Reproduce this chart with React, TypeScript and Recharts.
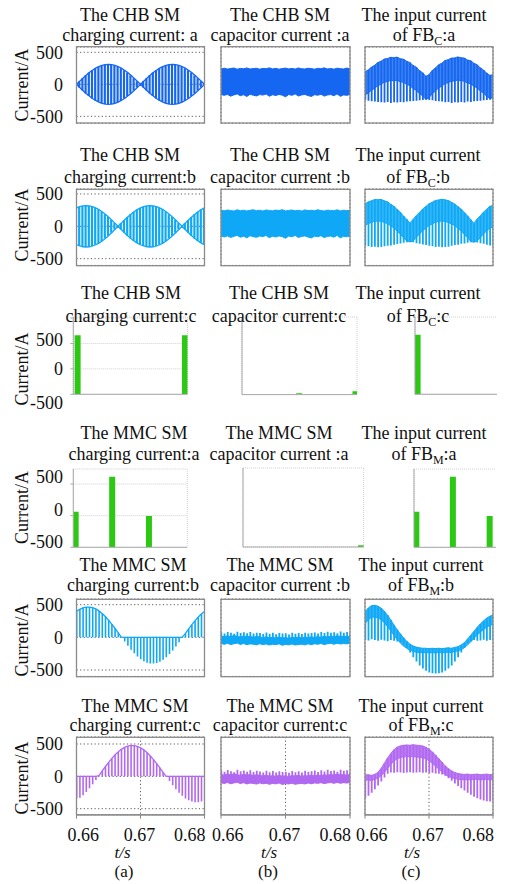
import React from 'react';
import { ComposedChart, Bar, Line, Area, XAxis, YAxis, CartesianGrid } from 'recharts';

// ---------- shared sample instants (s) ----------
const TIME = [
  0.66, 0.6605, 0.661, 0.6615, 0.662, 0.6625, 0.663, 0.6635, 0.664, 0.6645,
  0.665, 0.6655, 0.666, 0.6665, 0.667, 0.6675, 0.668, 0.6685, 0.669, 0.6695,
  0.67, 0.6705, 0.671, 0.6715, 0.672, 0.6725, 0.673, 0.6735, 0.674, 0.6745,
  0.675, 0.6755, 0.676, 0.6765, 0.677, 0.6775, 0.678, 0.6785, 0.679, 0.6795, 0.68,
];
const X_TICKS = [0.66, 0.67, 0.68];
const Y_TICKS = [-500, 0, 500];

// ---------- row 1 : CHB phase a ----------
const CHB_A_CHARGE_ENV = [0, 49, 96, 142, 183, 221, 252, 278, 297, 308, 312, 308, 297, 278, 252, 221, 183, 142, 96, 49, 0, 49, 96, 142, 183, 221, 252, 278, 297, 308, 312, 308, 297, 278, 252, 221, 183, 142, 96, 49, 0];
const CHB_A_CAP_HI = [240, 252, 238, 247, 255, 236, 249, 243, 256, 239, 246, 251, 237, 248, 244, 257, 240, 250, 236, 247, 253, 241, 249, 238, 255, 244, 239, 251, 246, 236, 250, 243, 257, 240, 248, 237, 252, 245, 239, 254, 244];
const CHB_A_CAP_LO = [-160, -172, -158, -185, -165, -150, -178, -162, -190, -155, -170, -182, -160, -168, -152, -186, -163, -175, -158, -170, -195, -160, -172, -150, -183, -166, -158, -176, -190, -162, -171, -155, -184, -167, -160, -178, -150, -188, -165, -172, -160];
const CHB_A_IN_TOP = [195, 225, 268, 296, 340, 360, 395, 402, 422, 415, 425, 400, 392, 360, 340, 295, 268, 215, 180, 125, 150, 215, 255, 305, 330, 372, 385, 410, 412, 428, 415, 410, 380, 370, 330, 305, 258, 225, 175, 140, 150];
const CHB_A_IN_BAND_LO = [-165, -135, -92, -64, -20, 0, 35, 42, 62, 55, 65, 40, 32, 0, -20, -65, -92, -145, -180, -235, -210, -145, -105, -55, -30, 12, 25, 50, 52, 68, 55, 50, 20, 10, -30, -55, -102, -135, -185, -220, -210];
const CHB_A_IN_LOW = [-250, -255, -265, -270, -275, -280, -285, -275, -290, -280, -285, -275, -280, -270, -265, -260, -255, -250, -245, -240, -245, -250, -260, -265, -270, -280, -275, -290, -280, -285, -275, -285, -270, -275, -265, -260, -255, -250, -245, -240, -245];

// ---------- row 2 : CHB phase b ----------
const CHB_B_CHARGE_ENV = [285, 304, 316, 320, 316, 304, 285, 259, 226, 188, 145, 99, 50, 0, 50, 99, 145, 188, 226, 259, 285, 304, 316, 320, 316, 304, 285, 259, 226, 188, 145, 99, 50, 0, 50, 99, 145, 188, 226, 259, 285];
const CHB_B_CAP_HI = [248, 239, 252, 244, 236, 255, 241, 250, 238, 247, 256, 240, 249, 237, 253, 245, 239, 251, 243, 258, 238, 246, 252, 240, 249, 236, 254, 243, 248, 239, 256, 244, 237, 250, 246, 241, 255, 238, 249, 243, 247];
const CHB_B_CAP_LO = [-150, -165, -148, -172, -155, -140, -168, -152, -178, -145, -160, -170, -150, -158, -142, -175, -153, -165, -148, -160, -185, -150, -162, -140, -173, -156, -148, -166, -180, -152, -161, -145, -174, -157, -150, -168, -140, -178, -155, -162, -150];
const CHB_B_IN_TOP = [345, 378, 395, 413, 412, 415, 395, 378, 342, 310, 262, 218, 160, 110, 52, 105, 165, 212, 268, 305, 348, 372, 399, 408, 418, 409, 398, 372, 347, 305, 268, 214, 165, 104, 48, 110, 160, 218, 262, 310, 320];
const CHB_B_IN_BAND_LO = [10, 43, 60, 78, 77, 80, 60, 43, 7, -25, -73, -117, -175, -225, -240, -230, -170, -123, -67, -30, 13, 37, 64, 73, 83, 74, 63, 37, 12, -30, -67, -121, -170, -231, -245, -225, -175, -117, -73, -25, -15];
const CHB_B_IN_LOW = [-300, -310, -320, -315, -325, -320, -310, -300, -295, -285, -275, -265, -255, -245, -240, -245, -260, -270, -280, -290, -300, -310, -320, -315, -325, -320, -315, -300, -290, -285, -270, -265, -255, -245, -245, -250, -260, -270, -285, -295, -305];

// ---------- rows 3 & 4 : bar renderings ----------
const BAR_BASE = -500;
const R3_X_TICKS = [0.66, 0.67, 0.68];
const R4_X_TICKS = [0.66, 0.66667, 0.67333, 0.68];
const CHB_C_CHARGE_T = [0.6607, 0.6795];
const CHB_C_CHARGE_TOP = [660, 662];
const CHB_C_CAP_T = [0.66997, 0.67976];
const CHB_C_CAP_TOP = [-482, -458];
const CHB_C_IN_T = [0.6605, 0.6795];
const CHB_C_IN_TOP = [672, 665];
const MMC_A_CHARGE_T = [0.66046, 0.66687, 0.67332];
const MMC_A_CHARGE_TOP = [62, 615, -6];
const MMC_A_CAP_T = [0.67957];
const MMC_A_CAP_TOP = [-478];
const MMC_A_IN_T = [0.66046, 0.66687, 0.67332];
const MMC_A_IN_TOP = [62, 615, -6];

// ---------- row 5 : MMC phase b ----------
const MMC_B_CHARGE = [397, 429, 452, 463, 464, 455, 435, 405, 366, 318, 264, 203, 139, 72, 4, -64, -129, -190, -245, -295, -335, -367, -390, -401, -402, -393, -373, -343, -304, -256, -202, -141, -77, -10, 58, 126, 191, 252, 307, 357, 397];
const MMC_B_CAP_HI = [20, 8, 25, 12, 30, 15, 5, 22, 10, 18, 0, 15, 5, -5, 10, -8, 2, -12, 5, -10, -3, -15, 0, -8, 5, -10, 2, -5, 8, -3, 12, 0, 15, 5, 20, 10, 25, 12, 18, 8, 20];
const MMC_B_CAP_LO = [-95, -105, -92, -110, -98, -88, -108, -95, -112, -100, -105, -115, -98, -110, -102, -118, -105, -112, -100, -120, -108, -115, -102, -118, -110, -105, -115, -100, -112, -98, -105, -95, -110, -98, -92, -105, -90, -102, -95, -100, -92];
const MMC_B_CAP_SPIKE = [75, 60, 82, 70, 55, 85, 68, 78, 62, 80, 58, 72, 65, 50, 75, 55, 70, 48, 68, 58, 62, 45, 70, 55, 66, 50, 72, 60, 68, 75, 58, 80, 65, 85, 70, 78, 62, 88, 72, 80, 68];
const MMC_B_IN_TOP = [420, 470, 500, 505, 495, 470, 430, 380, 320, 255, 195, 140, 90, 45, 10, -15, -30, -40, -45, -45, -50, -45, -50, -45, -50, -45, -40, -45, -35, -25, -5, 25, 70, 120, 170, 220, 265, 305, 340, 365, 380];
const MMC_B_IN_BAND_LO = [270, 320, 350, 355, 345, 320, 285, 235, 180, 125, 70, 25, -15, -45, -70, -85, -95, -100, -100, -100, -105, -100, -105, -100, -105, -100, -95, -100, -90, -80, -65, -40, -5, 35, 80, 120, 160, 195, 225, 245, 260];
const MMC_B_IN_LOW = [60, 55, 70, 60, 50, 65, 55, 45, 60, 50, 40, 30, 0, -40, -100, -160, -215, -265, -305, -335, -355, -365, -368, -365, -355, -335, -305, -265, -215, -160, -100, -40, 20, 45, 60, 50, 55, 65, 50, 60, 55];

// ---------- row 6 : MMC phase c ----------
const MMC_C_CHARGE = [-340, -333, -292, -242, -186, -124, -58, 10, 79, 148, 213, 274, 329, 377, 417, 447, 467, 477, 476, 464, 442, 409, 368, 318, 262, 200, 134, 66, -3, -72, -137, -198, -253, -301, -341, -371, -391, -401, -400, -388, -366];
const MMC_C_CAP_HI = [30, 18, 35, 22, 40, 25, 15, 32, 20, 28, 12, 25, 15, 5, 20, 2, 12, 0, 15, 2, 8, -2, 12, 5, 15, 0, 12, 5, 18, 8, 22, 10, 25, 15, 30, 20, 35, 22, 28, 18, 30];
const MMC_C_CAP_LO = [-100, -110, -95, -115, -102, -92, -112, -98, -118, -105, -110, -120, -102, -115, -108, -122, -110, -116, -104, -125, -112, -118, -106, -122, -114, -110, -118, -104, -115, -102, -108, -98, -112, -102, -96, -108, -94, -106, -98, -104, -96];
const MMC_C_CAP_SPIKE = [90, 72, 98, 80, 65, 100, 78, 92, 70, 95, 68, 85, 75, 60, 88, 65, 82, 58, 80, 68, 72, 55, 82, 65, 78, 60, 85, 70, 80, 90, 68, 95, 75, 100, 82, 92, 72, 102, 85, 95, 80];
const MMC_C_IN_TOP = [20, 25, 15, 30, 60, 120, 200, 280, 350, 410, 450, 470, 480, 485, 480, 488, 482, 478, 470, 450, 420, 380, 330, 275, 220, 165, 120, 85, 60, 45, 35, 30, 35, 25, 30, 35, 25, 30, 35, 25, 30];
const MMC_C_IN_BAND_LO = [-60, -55, -65, -50, -30, 10, 60, 120, 180, 235, 270, 290, 300, 305, 300, 305, 300, 295, 290, 270, 240, 205, 160, 115, 70, 30, 0, -20, -35, -45, -50, -55, -50, -55, -50, -45, -55, -50, -45, -55, -50];
const MMC_C_IN_LOW = [-340, -300, -255, -200, -140, -80, -20, 40, 60, 55, 65, 60, 50, 60, 65, 55, 60, 65, 55, 60, 50, 55, 45, 40, 30, 10, -30, -70, -110, -150, -185, -220, -255, -285, -315, -340, -360, -375, -385, -390, -385];

// ---------- text ----------
const TITLE_TOP = [
  ['The CHB SM', 'The CHB SM', 'The input current'],
  ['The CHB SM', 'The CHB SM', 'The input current'],
  ['The CHB SM', 'The CHB SM', 'The input current'],
  ['The MMC SM', 'The MMC SM', 'The input current'],
  ['The MMC SM', 'The MMC SM', 'The input current'],
  ['The MMC SM', 'The MMC SM', 'The input current'],
];
const TITLE_BOTTOM = [
  ['charging current: a', 'capacitor current :a'],
  ['charging current:b', 'capacitor current :b'],
  ['charging current:c', 'capacitor current:c'],
  ['charging current:a', 'capacitor current :a'],
  ['charging current:b', 'capacitor current :b'],
  ['charging current:c', 'capacitor current:c'],
];
const TITLE_FB = [['C', ':a'], ['C', ':b'], ['C', ':c'], ['M', ':a'], ['M', ':b'], ['M', ':c']];
const TITLE_Y = [[20.7, 40.7], [160.7, 183], [299, 322], [439, 459.5], [570.5, 590.5], [711.5, 730.5]];
const TITLE_X = [[130, 280, 424], [130, 280, 418], [131, 279, 418], [134, 279, 424], [133, 280, 421], [135, 280, 421]];
const CURRENT_Y = [85, 225, 369, 507.5, 640, 778];
const COL_TAGS = ['(a)', '(b)', '(c)'];
const TS_X = [122.5, 269, 412];
const TAG_X = [124, 268, 411];

// ---------- styles ----------
const FF = "'Liberation Serif', 'DejaVu Serif', 'Noto Serif', Tinos, 'Nimbus Roman', FreeSerif, 'Times New Roman', serif";
const FS = 18;
const TXT: React.CSSProperties = { fontFamily: FF, fontSize: FS };
const BLUE = '#1566f0';
const CYAN = '#0ea8f6';
const PURPLE = '#b168f0';
const GREEN = '#2cc814';
const FRAME = '#8a8a8a';
const PAD = 16;
const LPAD = 14;

const COL_X = [76.5, 221, 365];
const COL_W = [128, 129, 128];
const R1 = { y: 46.7, h: 76.3, dom: [-609, 583] as [number, number] };
const R2 = { y: 189.3, h: 76.4, dom: [-604, 577] as [number, number] };
const R5 = { y: 599.3, h: 77.4, dom: [-598, 587] as [number, number] };
const R5C_DOM: [number, number] = [-406, 586];
const R6 = { y: 737.3, h: 77.7, dom: [-593, 608] as [number, number] };

// ---------- table builders ----------
const splitRows = (env: number[]) => TIME.map((t, i) => ({ t, s: [-env[i], env[i]], hi: env[i], lo: -env[i] }));
const bandRows = (lo: number[], hi: number[]) => TIME.map((t, i) => ({ t, b: [lo[i], hi[i]] }));
const bandStripeRows = (bandLo: number[], bandHi: number[], sLo: number[], sHi: number[]) =>
  TIME.map((t, i) => ({ t, b: [bandLo[i], bandHi[i]], s: [sLo[i], sHi[i]] }));
const pwmRows = (v: number[]) => TIME.map((t, i) => ({ t, s: v[i], hold: Math.max(v[i], 0) }));
const glitchRows = (ts: number[], tops: number[]) => ts.map((t, i) => ({ t, g: [BAR_BASE, tops[i]] }));

// ---------- series ----------
const splitSeries = (c: string) => [
  <Bar key="s" dataKey="s" fill={c} barSize={2.2} isAnimationActive={false} />,
  <Line key="hi" dataKey="hi" type="linear" stroke={c} strokeWidth={1.3} dot={false} isAnimationActive={false} />,
  <Line key="lo" dataKey="lo" type="linear" stroke={c} strokeWidth={1.3} dot={false} isAnimationActive={false} />,
];
const bandSeries = (c: string) => [
  <Area key="b" dataKey="b" type="linear" stroke={c} strokeWidth={1} fill={c} fillOpacity={1} isAnimationActive={false} />,
];
const bandStripeSeries = (c: string, op: number) => [
  <Bar key="s" dataKey="s" fill={c} barSize={1.8} isAnimationActive={false} />,
  <Area key="b" dataKey="b" type="linear" stroke={c} strokeWidth={1} fill={c} fillOpacity={op} isAnimationActive={false} />,
];
const pwmSeries = (c: string) => [
  <Bar key="s" dataKey="s" fill={c} barSize={1.6} isAnimationActive={false} />,
  <Line key="h" dataKey="hold" type="linear" stroke={c} strokeWidth={1.3} dot={false} isAnimationActive={false} />,
];
const glitchSeries = () => [
  <Bar key="g" dataKey="g" fill={GREEN} barSize={6} isAnimationActive={false} />,
];

interface PanelProps {
  x: number; y: number; w: number; h: number;
  yDomain: [number, number]; yTicks: number[]; xTicks: number[];
  data: any[];
  glitch?: boolean;
  yLabels?: Record<string, number>;
  xLabels?: boolean;
  clipRight?: number;
  children?: React.ReactNode;
}

function Panel(p: PanelProps) {
  const yAxisW = p.yLabels ? p.x : p.glitch ? 4 : 0;
  const lm = p.yLabels ? 0 : LPAD;
  const xAxisH = p.xLabels ? 40 : p.glitch ? 5 : 0;
  const left = p.x - yAxisW - lm;
  const cw = lm + yAxisW + p.w + (p.clipRight ? 0 : 4);
  const ch = PAD + p.h + xAxisH + PAD;
  const ww = p.clipRight ? p.clipRight - left : cw;
  const gridStroke = p.glitch ? '#cfcfcf' : '#5a5a5a';
  const gridDash = p.glitch ? '1 1' : '1.2 2.4';
  const axisColor = p.glitch ? '#a9a9a9' : FRAME;
  const yTick: any = p.yLabels
    ? (tp: any) => {
        const v = tp.payload.value;
        const d = p.yLabels![String(v)];
        if (d === undefined) return <g />;
        return (
          <text x={63} y={tp.y + d} dy="0.35em" textAnchor="end" style={TXT} fill="#111">
            {String(v)}
          </text>
        );
      }
    : false;
  const xTick: any = p.xLabels
    ? (tp: any) => {
        const v = tp.payload.value;
        const anchor = v === 0.66 ? 'start' : v === 0.68 ? 'end' : 'middle';
        const dx = v === 0.66 ? -9 : v === 0.68 ? 1 : -1;
        return (
          <text x={tp.x + dx} y={PAD + p.h + 26} textAnchor={anchor} style={TXT} fill="#111">
            {String(v)}
          </text>
        );
      }
    : false;
  return (
    <div style={{ position: 'absolute', left, top: p.y - PAD, width: ww, height: ch, overflow: 'hidden' }}>
      <ComposedChart width={cw} height={ch} data={p.data} margin={{ top: PAD, right: p.clipRight ? 0 : 4, bottom: PAD, left: lm }}>
        <CartesianGrid stroke={gridStroke} strokeDasharray={gridDash} strokeWidth={1} />
        <XAxis
          dataKey="t"
          type="number"
          domain={[0.66, 0.68]}
          ticks={p.xTicks}
          allowDataOverflow
          interval={0}
          hide={!p.xLabels && !p.glitch}
          height={xAxisH}
          axisLine={{ stroke: axisColor, strokeWidth: 1 }}
          tickLine={{ stroke: axisColor }}
          tickSize={4}
          tick={xTick}
        />
        <YAxis
          type="number"
          domain={p.yDomain}
          ticks={p.yTicks}
          allowDataOverflow
          interval={0}
          hide={!p.yLabels && !p.glitch}
          width={yAxisW}
          axisLine={p.glitch ? { stroke: axisColor } : false}
          tickLine={p.glitch ? { stroke: axisColor } : false}
          tickSize={3}
          tick={yTick}
        />
        {p.children}
      </ComposedChart>
    </div>
  );
}

const SCOPE_LABELS = { '500': 0, '0': 0, '-500': 0 };

function Overlay() {
  const frames = [R1, R2, R5, R6];
  return (
    <svg width={506} height={884} style={{ position: 'absolute', left: 0, top: 0, pointerEvents: 'none' }}>
      {frames.map((r, ri) =>
        COL_X.map((x, ci) => (
          <rect key={`f${ri}${ci}`} x={x} y={r.y} width={COL_W[ci]} height={r.h} fill="none" stroke={FRAME} strokeWidth={1.3} />
        ))
      )}
      {TITLE_TOP.map((row, ri) => (
        <g key={`t${ri}`} fill="#111" textAnchor="middle">
          {row.map((s, ci) => (
            <text key={ci} x={TITLE_X[ri][ci]} y={TITLE_Y[ri][0]} style={TXT}>{s}</text>
          ))}
          <text x={TITLE_X[ri][0]} y={TITLE_Y[ri][1]} style={TXT}>{TITLE_BOTTOM[ri][0]}</text>
          <text x={TITLE_X[ri][1]} y={TITLE_Y[ri][1]} style={TXT}>{TITLE_BOTTOM[ri][1]}</text>
          <text x={TITLE_X[ri][2]} y={TITLE_Y[ri][1]} style={TXT}>
            of FB<tspan style={{ fontSize: 12 }} dy={4}>{TITLE_FB[ri][0]}</tspan>
            <tspan dy={-4}>{TITLE_FB[ri][1]}</tspan>
          </text>
          <text transform={`translate(22.5 ${CURRENT_Y[ri]}) rotate(-90)`} x={0} y={0} dy="0.33em" style={TXT}>Current/A</text>
        </g>
      ))}
      <g fill="#111" textAnchor="middle">
        {TS_X.map((x, i) => (
          <text key={`ts${i}`} x={x} y={858} style={{ ...TXT, fontSize: 17, fontStyle: 'italic' }}>t/s</text>
        ))}
        {TAG_X.map((x, i) => (
          <text key={`tg${i}`} x={x} y={876.5} style={{ ...TXT, fontSize: 17 }}>{COL_TAGS[i]}</text>
        ))}
      </g>
    </svg>
  );
}

export default function App() {
  return (
    <div style={{ position: 'absolute', left: 0, top: 0, width: 506, height: 884, background: '#fff', overflow: 'hidden' }}>
      {/* Row 1 */}
      <Panel x={COL_X[0]} y={R1.y} w={COL_W[0]} h={R1.h} yDomain={R1.dom} yTicks={Y_TICKS} xTicks={X_TICKS} yLabels={SCOPE_LABELS} data={splitRows(CHB_A_CHARGE_ENV)}>
        {splitSeries(BLUE)}
      </Panel>
      <Panel x={COL_X[1]} y={R1.y} w={COL_W[1]} h={R1.h} yDomain={R1.dom} yTicks={Y_TICKS} xTicks={X_TICKS} data={bandRows(CHB_A_CAP_LO, CHB_A_CAP_HI)}>
        {bandSeries(BLUE)}
      </Panel>
      <Panel x={COL_X[2]} y={R1.y} w={COL_W[2]} h={R1.h} yDomain={R1.dom} yTicks={Y_TICKS} xTicks={X_TICKS} data={bandStripeRows(CHB_A_IN_BAND_LO, CHB_A_IN_TOP, CHB_A_IN_LOW, CHB_A_IN_TOP)}>
        {bandStripeSeries(BLUE, 0.82)}
      </Panel>

      {/* Row 2 */}
      <Panel x={COL_X[0]} y={R2.y} w={COL_W[0]} h={R2.h} yDomain={R2.dom} yTicks={Y_TICKS} xTicks={X_TICKS} yLabels={SCOPE_LABELS} data={splitRows(CHB_B_CHARGE_ENV)}>
        {splitSeries(CYAN)}
      </Panel>
      <Panel x={COL_X[1]} y={R2.y} w={COL_W[1]} h={R2.h} yDomain={R2.dom} yTicks={Y_TICKS} xTicks={X_TICKS} data={bandRows(CHB_B_CAP_LO, CHB_B_CAP_HI)}>
        {bandSeries(CYAN)}
      </Panel>
      <Panel x={COL_X[2]} y={R2.y} w={COL_W[2]} h={R2.h} yDomain={R2.dom} yTicks={Y_TICKS} xTicks={X_TICKS} data={bandStripeRows(CHB_B_IN_BAND_LO, CHB_B_IN_TOP, CHB_B_IN_LOW, CHB_B_IN_TOP)}>
        {bandStripeSeries(CYAN, 0.82)}
      </Panel>

      {/* Row 3 */}
      <Panel glitch x={73.3} y={316.7} w={114.2} h={77.3} yDomain={[-500, 1020]} yTicks={[-500, 0, 500, 1000]} xTicks={R3_X_TICKS} yLabels={{ '500': -3.3, '0': 0, '-500': 8 }} data={glitchRows(CHB_C_CHARGE_T, CHB_C_CHARGE_TOP)}>
        {glitchSeries()}
      </Panel>
      <Panel glitch x={241.7} y={316.7} w={115} h={77.6} yDomain={[-500, 500]} yTicks={Y_TICKS} xTicks={R3_X_TICKS} data={glitchRows(CHB_C_CAP_T, CHB_C_CAP_TOP)}>
        {glitchSeries()}
      </Panel>
      <Panel glitch x={415} y={316.7} w={114.2} h={77.3} yDomain={[-500, 1020]} yTicks={[-500, 0, 500, 1000]} xTicks={R3_X_TICKS} clipRight={497} data={glitchRows(CHB_C_IN_T, CHB_C_IN_TOP)}>
        {glitchSeries()}
      </Panel>

      {/* Row 4 */}
      <Panel glitch x={73.3} y={469} w={114} h={78.3} yDomain={[-500, 737]} yTicks={Y_TICKS} xTicks={R4_X_TICKS} yLabels={{ '500': -7.3, '0': -5.7, '-500': -5.6 }} data={glitchRows(MMC_A_CHARGE_T, MMC_A_CHARGE_TOP)}>
        {glitchSeries()}
      </Panel>
      <Panel glitch x={242.7} y={468.3} w={120.6} h={79} yDomain={[-500, 500]} yTicks={Y_TICKS} xTicks={R4_X_TICKS} data={glitchRows(MMC_A_CAP_T, MMC_A_CAP_TOP)}>
        {glitchSeries()}
      </Panel>
      <Panel glitch x={414} y={469} w={114} h={78.3} yDomain={[-500, 737]} yTicks={Y_TICKS} xTicks={R4_X_TICKS} clipRight={496} data={glitchRows(MMC_A_IN_T, MMC_A_IN_TOP)}>
        {glitchSeries()}
      </Panel>

      {/* Row 5 */}
      <Panel x={COL_X[0]} y={R5.y} w={COL_W[0]} h={R5.h} yDomain={R5.dom} yTicks={Y_TICKS} xTicks={X_TICKS} yLabels={SCOPE_LABELS} data={pwmRows(MMC_B_CHARGE)}>
        {pwmSeries(CYAN)}
      </Panel>
      <Panel x={COL_X[1]} y={R5.y} w={COL_W[1]} h={R5.h} yDomain={R5.dom} yTicks={Y_TICKS} xTicks={X_TICKS} data={bandStripeRows(MMC_B_CAP_LO, MMC_B_CAP_HI, MMC_B_CAP_LO, MMC_B_CAP_SPIKE)}>
        {bandStripeSeries(CYAN, 1)}
      </Panel>
      <Panel x={COL_X[2]} y={R5.y} w={COL_W[2]} h={R5.h} yDomain={R5C_DOM} yTicks={[0, 500]} xTicks={X_TICKS} data={bandStripeRows(MMC_B_IN_BAND_LO, MMC_B_IN_TOP, MMC_B_IN_LOW, MMC_B_IN_TOP)}>
        {bandStripeSeries(CYAN, 0.85)}
      </Panel>

      {/* Row 6 */}
      <Panel x={COL_X[0]} y={R6.y} w={COL_W[0]} h={R6.h} yDomain={R6.dom} yTicks={Y_TICKS} xTicks={X_TICKS} yLabels={SCOPE_LABELS} xLabels data={pwmRows(MMC_C_CHARGE)}>
        {pwmSeries(PURPLE)}
      </Panel>
      <Panel x={COL_X[1]} y={R6.y} w={COL_W[1]} h={R6.h} yDomain={R6.dom} yTicks={Y_TICKS} xTicks={X_TICKS} xLabels data={bandStripeRows(MMC_C_CAP_LO, MMC_C_CAP_HI, MMC_C_CAP_LO, MMC_C_CAP_SPIKE)}>
        {bandStripeSeries(PURPLE, 1)}
      </Panel>
      <Panel x={COL_X[2]} y={R6.y} w={COL_W[2]} h={R6.h} yDomain={R6.dom} yTicks={Y_TICKS} xTicks={X_TICKS} xLabels data={bandStripeRows(MMC_C_IN_BAND_LO, MMC_C_IN_TOP, MMC_C_IN_LOW, MMC_C_IN_TOP)}>
        {bandStripeSeries(PURPLE, 0.85)}
      </Panel>

      <Overlay />
    </div>
  );
}
